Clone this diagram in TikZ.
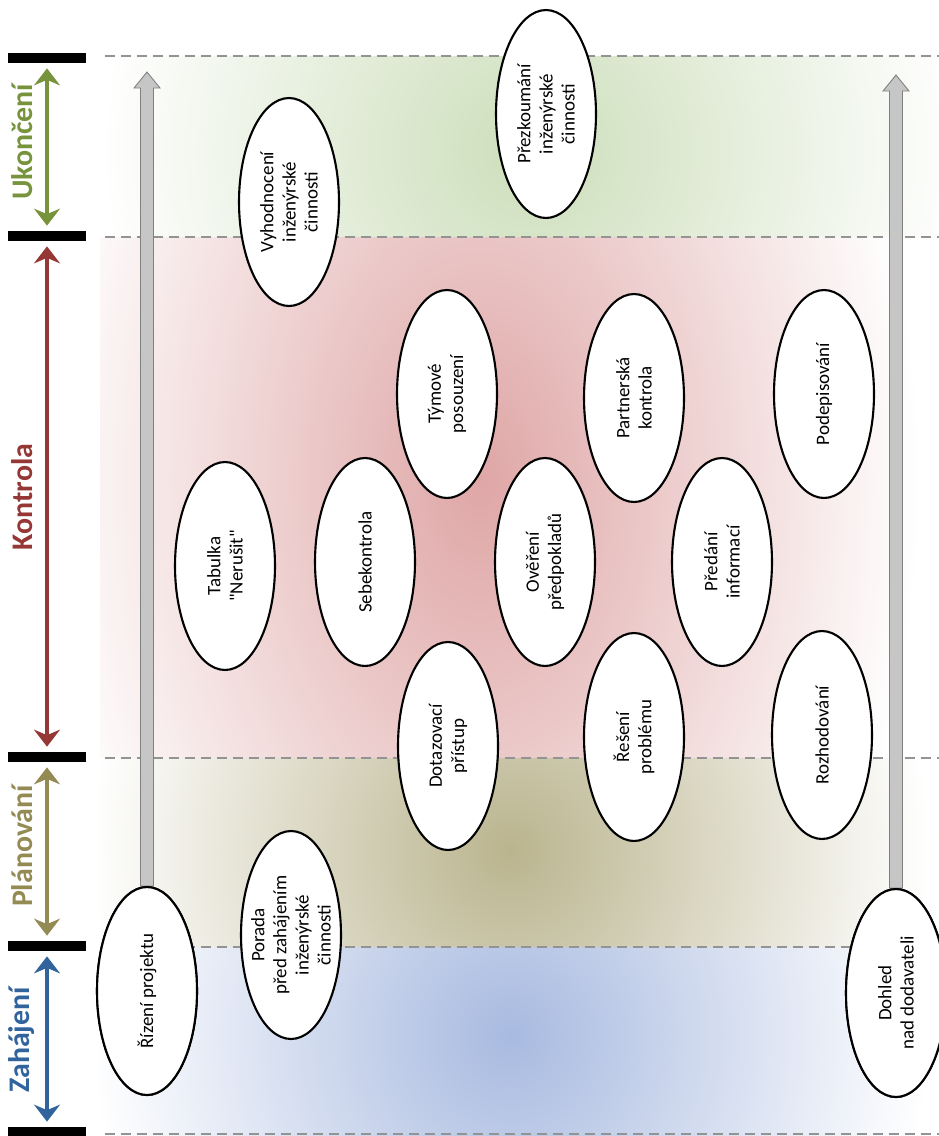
\documentclass[tikz,border=0pt]{standalone}
\usepackage{fontspec}
\setmainfont{Carlito}
\font\plainq="Carlito" at 10.8pt
\newcommand\dq{{\plainq\char34}}
\usepackage{tikz}
\usetikzlibrary{positioning,arrows.meta,calc,shapes.geometric}

\definecolor{ukcol}{HTML}{77933C}
\definecolor{kocol}{HTML}{953735}
\definecolor{plcol}{HTML}{948A54}
\definecolor{zacol}{HTML}{31649C}
\definecolor{ukband}{HTML}{CCDEBA}
\definecolor{koband}{HTML}{DFA6A6}
\definecolor{plband}{HTML}{BAB48E}
\definecolor{zaband}{HTML}{A8BAE0}

\begin{document}
\begin{tikzpicture}
    [x=0.02cm, y=-0.02cm,
     act/.style={ellipse, draw=black, line width=1.2pt, fill=white, rotate=90,
        minimum width=4.16cm, minimum height=2cm, inner sep=-0.5cm, align=center,
        font=\fontsize{10.8}{12.6}\selectfont},
     phase/.style={rotate=90, inner sep=0pt, font=\fontsize{17}{20}\selectfont\bfseries},
     bar/.style={rectangle, fill=black, minimum width=1.56cm, minimum height=2mm, inner sep=0pt},
     phasearr/.style={<->, >={Stealth[length=3.4mm,width=5.2mm,inset=1.1mm]}, line width=0.8mm,
        shorten <=1mm, shorten >=1mm},
     sepline/.style={draw=gray!85, line width=0.4mm, dash pattern=on 2mm off 1.2mm},
     garrow/.style={draw=gray, fill=gray!45, line width=0.5pt,
        to path={($(\tikztostart)+(-6.5,0)$) -- ($(\tikztotarget)+(-6.5,16)$)
          -- ($(\tikztotarget)+(-13,16)$) -- (\tikztotarget) -- ($(\tikztotarget)+(13,16)$)
          -- ($(\tikztotarget)+(6.5,16)$) -- ($(\tikztostart)+(6.5,0)$) -- cycle}}]

    \useasboundingbox (0,0) rectangle (939,1136);

    % phase bands
    \begin{scope}
      \clip (100,56) rectangle (939,237);
      \shade[inner color=ukband, outer color=white] (530,150) ellipse (430 and 420);
    \end{scope}
    \begin{scope}
      \clip (100,237) rectangle (939,758);
      \shade[inner color=koband, outer color=white] (480,480) ellipse (440 and 700);
    \end{scope}
    \begin{scope}
      \clip (100,758) rectangle (939,947);
      \shade[inner color=plband, outer color=white] (510,850) ellipse (420 and 430);
    \end{scope}
    \begin{scope}
      \clip (100,947) rectangle (939,1136);
      \shade[inner color=zaband, outer color=white] (510,1035) ellipse (420 and 430);
    \end{scope}

    \foreach \y in {56,237,758,947,1134}
      \draw[sepline] (105,\y) -- (939,\y);

    % phase scale
    \node[bar] (b1) at (47,58) {};
    \node[bar] (b2) at (47,236) {};
    \node[bar] (b3) at (47,757) {};
    \node[bar] (b4) at (47,946) {};
    \node[bar] (b5) at (47,1132) {};

    \draw[phasearr, ukcol] (b1) -- (b2);
    \draw[phasearr, kocol] (b2) -- (b3);
    \draw[phasearr, plcol] (b3) -- (b4);
    \draw[phasearr, zacol] (b4) -- (b5);

    \node[phase, ukcol] (uklab) at (22,142) {Ukončení};
    \node[phase, kocol] (kolab) at (22,497) {Kontrola};
    \node[phase, plcol] (pllab) at (22,846) {Plánování};
    \node[phase, zacol] (zalab) at (22,1040) {Zahájení};

    % long-running activities
    \node[act] (rizeni) at (147,991) {Řízení projektu};
    \node[act] (dohled) at (896,993) {Dohled\\nad dodavateli};
    \coordinate (rtop) at (147,72);
    \coordinate (dtop) at (896,75);
    \draw[garrow] (rizeni.east) to (rtop);
    \draw[garrow] (dohled.east) to (dtop);
    \node[act] at (rizeni) {Řízení projektu};
    \node[act] at (dohled) {Dohled\\nad dodavateli};

    % activities
    \node[act] (porada) at (291,935) {Porada\\před zahájením\\inženýrské\\činnosti};
    \node[act] (dotaz) at (448,746) {Dotazovací\\přístup};
    \node[act] (reseni) at (634,737) {Řešení\\problému};
    \node[act] (rozhod) at (822,735) {Rozhodování};
    \node[act] (tabulka) at (225,566) {Tabulka\\\dq Nerušit\dq};
    \node[act] (sebek) at (365,562) {Sebekontrola};
    \node[act] (overeni) at (545,562) {Ověření\\předpokladů};
    \node[act] (predani) at (722,562) {Předání\\informací};
    \node[act] (tymove) at (447,394) {Týmové\\posouzení};
    \node[act] (partner) at (634,398) {Partnerská\\kontrola};
    \node[act] (podep) at (824,394) {Podepisování};
    \node[act] (vyhod) at (289,202) {Vyhodnocení\\inženýrské\\činnosti};
    \node[act] (prezk) at (546,114) {Přezkoumání\\inženýrské\\činnosti};
\end{tikzpicture}
\end{document}
